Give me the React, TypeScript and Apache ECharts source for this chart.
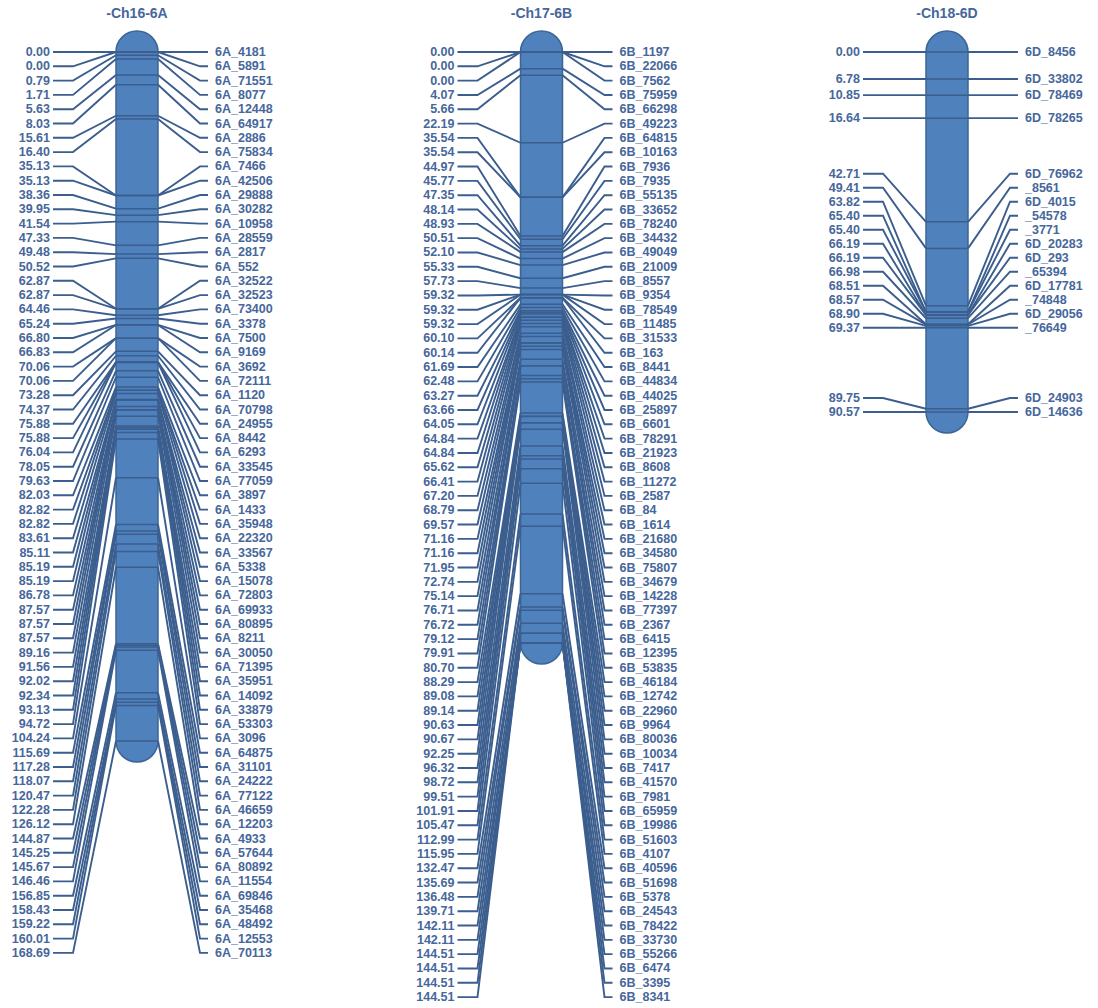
import React, { useEffect, useRef } from "react";
import * as echarts from "echarts";

// Linkage-group titles
const chromosomeTitles = ["-Ch16-6A", "-Ch17-6B", "-Ch18-6D"];

// Ch16-6A: marker positions (cM) and marker names
const ch16Positions = [
  0.0, 0.0, 0.79, 1.71, 5.63, 8.03, 15.61, 16.4,
  35.13, 35.13, 38.36, 39.95, 41.54, 47.33, 49.48, 50.52,
  62.87, 62.87, 64.46, 65.24, 66.8, 66.83, 70.06, 70.06,
  73.28, 74.37, 75.88, 75.88, 76.04, 78.05, 79.63, 82.03,
  82.82, 82.82, 83.61, 85.11, 85.19, 85.19, 86.78, 87.57,
  87.57, 87.57, 89.16, 91.56, 92.02, 92.34, 93.13, 94.72,
  104.24, 115.69, 117.28, 118.07, 120.47, 122.28, 126.12, 144.87,
  145.25, 145.67, 146.46, 156.85, 158.43, 159.22, 160.01, 168.69,
];
const ch16Markers = [
  "6A_4181", "6A_5891", "6A_71551", "6A_8077", "6A_12448", "6A_64917", "6A_2886", "6A_75834",
  "6A_7466", "6A_42506", "6A_29888", "6A_30282", "6A_10958", "6A_28559", "6A_2817", "6A_552",
  "6A_32522", "6A_32523", "6A_73400", "6A_3378", "6A_7500", "6A_9169", "6A_3692", "6A_72111",
  "6A_1120", "6A_70798", "6A_24955", "6A_8442", "6A_6293", "6A_33545", "6A_77059", "6A_3897",
  "6A_1433", "6A_35948", "6A_22320", "6A_33567", "6A_5338", "6A_15078", "6A_72803", "6A_69933",
  "6A_80895", "6A_8211", "6A_30050", "6A_71395", "6A_35951", "6A_14092", "6A_33879", "6A_53303",
  "6A_3096", "6A_64875", "6A_31101", "6A_24222", "6A_77122", "6A_46659", "6A_12203", "6A_4933",
  "6A_57644", "6A_80892", "6A_11554", "6A_69846", "6A_35468", "6A_48492", "6A_12553", "6A_70113",
];

// Ch17-6B
const ch17Positions = [
  0.0, 0.0, 0.0, 4.07, 5.66, 22.19, 35.54, 35.54,
  44.97, 45.77, 47.35, 48.14, 48.93, 50.51, 52.1, 55.33,
  57.73, 59.32, 59.32, 59.32, 60.1, 60.14, 61.69, 62.48,
  63.27, 63.66, 64.05, 64.84, 64.84, 65.62, 66.41, 67.2,
  68.79, 69.57, 71.16, 71.16, 71.95, 72.74, 75.14, 76.71,
  76.72, 79.12, 79.91, 80.7, 88.29, 89.08, 89.14, 90.63,
  90.67, 92.25, 96.32, 98.72, 99.51, 101.91, 105.47, 112.99,
  115.95, 132.47, 135.69, 136.48, 139.71, 142.11, 142.11, 144.51,
  144.51, 144.51, 144.51,
];
const ch17Markers = [
  "6B_1197", "6B_22066", "6B_7562", "6B_75959", "6B_66298", "6B_49223", "6B_64815", "6B_10163",
  "6B_7936", "6B_7935", "6B_55135", "6B_33652", "6B_78240", "6B_34432", "6B_49049", "6B_21009",
  "6B_8557", "6B_9354", "6B_78549", "6B_11485", "6B_31533", "6B_163", "6B_8441", "6B_44834",
  "6B_44025", "6B_25897", "6B_6601", "6B_78291", "6B_21923", "6B_8608", "6B_11272", "6B_2587",
  "6B_84", "6B_1614", "6B_21680", "6B_34580", "6B_75807", "6B_34679", "6B_14228", "6B_77397",
  "6B_2367", "6B_6415", "6B_12395", "6B_53835", "6B_46184", "6B_12742", "6B_22960", "6B_9964",
  "6B_80036", "6B_10034", "6B_7417", "6B_41570", "6B_7981", "6B_65959", "6B_19986", "6B_51603",
  "6B_4107", "6B_40596", "6B_51698", "6B_5378", "6B_24543", "6B_78422", "6B_33730", "6B_55266",
  "6B_6474", "6B_3395", "6B_8341",
];

// Ch18-6D
const ch18Positions = [
  0.0, 6.78, 10.85, 16.64, 42.71, 49.41, 63.82, 65.4, 65.4,
  66.19, 66.19, 66.98, 68.51, 68.57, 68.9, 69.37, 89.75, 90.57,
];
const ch18Markers = [
  "6D_8456", "6D_33802", "6D_78469", "6D_78265", "6D_76962", "_8561", "6D_4015", "_54578", "_3771",
  "6D_20283", "6D_293", "_65394", "6D_17781", "_74848", "6D_29056", "_76649", "6D_24903", "6D_14636",
];

// Drawing layout (pixels)
const layout = [
  { left: 116, height: 689, gap: 14.3 },
  { left: 520.5, height: 591, gap: 14.32 },
  { left: 926, height: 360, gap: 14.0 },
];
const PLOT_TOP = 52;
const BODY_WIDTH = 42;
const CAP = 21;

const BODY_FILL = "#4f81bd";
const BODY_STROKE = "#3d6594";
const LINE_COLOR = "#3b5e8e";
const TEXT_COLOR = "#46679b";
const LABEL_FONT = "bold 12.5px 'Liberation Sans', Arial, sans-serif";
const TITLE_FONT = "bold 14px 'Liberation Sans', Arial, sans-serif";

const groups = [
  { title: chromosomeTitles[0], positions: ch16Positions, markers: ch16Markers },
  { title: chromosomeTitles[1], positions: ch17Positions, markers: ch17Markers },
  { title: chromosomeTitles[2], positions: ch18Positions, markers: ch18Markers },
];

// Spread labels so they never overlap: push up from the bottom, then down from the top.
function spreadLabels(ys: number[], top: number, gap: number): number[] {
  const out = ys.slice();
  for (let i = out.length - 2; i >= 0; i--) out[i] = Math.min(out[i], out[i + 1] - gap);
  out[0] = Math.max(out[0], top);
  for (let i = 1; i < out.length; i++) out[i] = Math.max(out[i], out[i - 1] + gap);
  return out;
}

function textStyle(text: string, x: number, y: number, align: string, font: string) {
  return {
    text,
    x,
    y,
    fill: TEXT_COLOR,
    font,
    textAlign: align,
    align,
    textVerticalAlign: "middle",
    verticalAlign: "middle",
  };
}

function buildOption() {
  const grid = layout.map((l) => ({ left: l.left, top: PLOT_TOP, width: BODY_WIDTH, height: l.height }));
  const xAxis = groups.map((_, k) => ({ type: "value", gridIndex: k, min: 0, max: 1, show: false }));
  const yAxis = groups.map((g, k) => ({
    type: "value",
    gridIndex: k,
    min: 0,
    max: g.positions[g.positions.length - 1],
    inverse: true,
    show: false,
  }));

  const series: any[] = [];
  groups.forEach((g, k) => {
    const maxPos = g.positions[g.positions.length - 1];
    // chromosome body with rounded ends and title
    series.push({
      type: "custom",
      xAxisIndex: k,
      yAxisIndex: k,
      clip: false,
      silent: true,
      z: 1,
      data: [[0, 0]],
      renderItem: (_params: any, api: any) => {
        const [x0, y0] = api.coord([0, 0]);
        const x1 = api.coord([1, 0])[0];
        const yEnd = api.coord([0, maxPos])[1];
        return {
          type: "group",
          children: [
            {
              type: "rect",
              shape: { x: x0, y: y0 - CAP, width: x1 - x0, height: yEnd - y0 + 2 * CAP, r: CAP },
              style: { fill: BODY_FILL, stroke: BODY_STROKE, lineWidth: 1.5 },
            },
            {
              type: "text",
              style: textStyle(g.title, (x0 + x1) / 2, y0 - CAP - 18, "center", TITLE_FONT),
            },
          ],
        };
      },
    });
    // marker bands, connectors and labels
    series.push({
      type: "custom",
      xAxisIndex: k,
      yAxisIndex: k,
      clip: false,
      silent: true,
      z: 2,
      data: g.positions.map((p) => [0, p]),
      renderItem: (params: any, api: any) => {
        const i = params.dataIndex;
        const [xl, yTop] = api.coord([0, 0]);
        const xr = api.coord([1, 0])[0];
        const markerYs = g.positions.map((p) => api.coord([0, p])[1]);
        const labelYs = spreadLabels(markerYs, yTop, layout[k].gap);
        const my = markerYs[i];
        const ly = labelYs[i];
        const bandStyle = { stroke: LINE_COLOR, lineWidth: 1.5, fill: null };
        const lineStyle = { stroke: LINE_COLOR, lineWidth: 1.9, fill: null };
        return {
          type: "group",
          children: [
            { type: "line", shape: { x1: xl, y1: my, x2: xr, y2: my }, style: bandStyle },
            {
              type: "polyline",
              shape: { points: [[xl - 63, ly], [xl - 43, ly], [xl, my]] },
              style: lineStyle,
            },
            {
              type: "polyline",
              shape: { points: [[xr, my], [xr + 42, ly], [xr + 50, ly]] },
              style: lineStyle,
            },
            { type: "text", style: textStyle(g.positions[i].toFixed(2), xl - 66, ly, "right", LABEL_FONT) },
            { type: "text", style: textStyle(g.markers[i], xr + 57, ly, "left", LABEL_FONT) },
          ],
        };
      },
    });
  });

  return {
    animation: false,
    backgroundColor: "#ffffff",
    grid,
    xAxis,
    yAxis,
    series,
  };
}

export default function App() {
  const ref = useRef<HTMLDivElement>(null);
  useEffect(() => {
    if (!ref.current) return;
    const chart = echarts.init(ref.current, null, { renderer: "svg" });
    chart.setOption(buildOption() as any);
    return () => chart.dispose();
  }, []);
  return (
    <div
      ref={ref}
      style={{ position: "absolute", left: 0, top: 0, width: 1098, height: 1008, background: "#ffffff" }}
    />
  );
}
